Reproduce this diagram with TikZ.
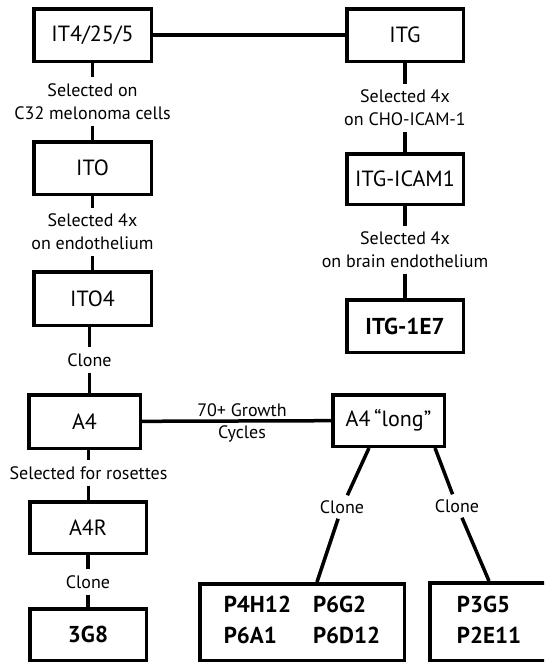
\documentclass[tikz,border=0pt]{standalone}
\usepackage{fontspec}
\setmainfont{PT Sans}
\begin{document}
\begin{tikzpicture}[x=1pt,y=-1pt,
  box/.style={draw, line width=3.5pt, inner sep=0pt, font=\fontsize{22}{26}\selectfont},
  bbox/.style={box, font=\fontsize{23}{31}\selectfont\bfseries},
  lbl/.style={inner xsep=2pt, inner ysep=6pt, align=center, font=\fontsize{18}{23}\selectfont},
  conn/.style={line width=3.5pt}]
\useasboundingbox (0,0) rectangle (544,664);
\clip (0,0) rectangle (544,664);
% boxes
\node[box, minimum width=117.5pt, minimum height=52.5pt] (it4) at (92.5,35) {IT4/25/5};
\node[box, minimum width=116.5pt, minimum height=52.5pt] (itg) at (405,35) {ITG};
\node[box, minimum width=117.5pt, minimum height=52.5pt] (ito) at (92.5,168) {ITO};
\node[box, minimum width=117.5pt, minimum height=53.5pt] (ito4) at (92.5,298.5) {ITO4};
\node[box, minimum width=111.5pt, minimum height=53.5pt] (a4) at (84.5,421.5) {A4};
\node[box, minimum width=116.5pt, minimum height=51.5pt] (a4r) at (88,527.5) {A4R};
\node[bbox, minimum width=116.5pt, minimum height=51.5pt] (g38) at (88,634.5) {3G8};
\node[box, minimum width=116.5pt, minimum height=50.5pt] (itgicam) at (405,179) {ITG-ICAM1};
\node[bbox, minimum width=116.5pt, minimum height=52.5pt] (itg1e7) at (405,326) {ITG-1E7};
\node[box, minimum width=111.5pt, minimum height=51.5pt] (a4long) at (388.5,420.5) {A4\,\textquotedblleft long\textquotedblright};
\node[bbox, minimum width=204.5pt, minimum height=76.5pt] (pleft) at (302,622)
  {\begin{tabular}{@{}l@{\hspace{22pt}}l@{}}P4H12 & P6G2\\ P6A1 & P6D12\end{tabular}};
\node[bbox, minimum width=118.5pt, minimum height=77.5pt] (pright) at (489,621.5)
  {\begin{tabular}{@{}l@{}}P3G5\\ P2E11\end{tabular}};
% labels
\node[lbl] (l1) at (92.5,101.5) {Selected on\\C32 melonoma cells};
\node[lbl] (l2) at (92.5,232) {Selected 4x\\on endothelium};
\node[lbl] (l3) at (89.5,360) {Clone};
\node[lbl] (l4) at (88.5,473) {Selected for rosettes};
\node[lbl] (l5) at (88,582) {Clone};
\node[lbl] (r1) at (405,108) {Selected 4x\\on CHO-ICAM-1};
\node[lbl] (r2) at (405,250) {Selected 4x\\on brain endothelium};
\node[lbl, inner sep=0pt, anchor=base] (g1) at (242,416) {70+ Growth};
\node[lbl, inner sep=0pt, anchor=base] (g2) at (242,438) {Cycles};
\node[lbl, inner sep=5pt] (c1) at (342,507) {Clone};
\node[lbl, inner sep=5pt] (c2) at (457,506) {Clone};
% connectors
\draw[conn] (it4) -- (itg);
\draw[conn] (it4) -- (l1);
\draw[conn] (l1) -- (ito);
\draw[conn] (ito) -- (l2);
\draw[conn] (l2) -- (ito4);
\draw[conn] (l3 |- ito4.south) -- (l3);
\draw[conn] (l3) -- (l3 |- a4.north);
\draw[conn] (l4 |- a4.south) -- (l4);
\draw[conn] (l4) -- (l4 |- a4r.north);
\draw[conn] (a4r) -- (l5);
\draw[conn] (l5) -- (g38);
\draw[conn] (itg) -- (r1);
\draw[conn] (r1) -- (itgicam);
\draw[conn] (itgicam) -- (r2);
\draw[conn] (r2) -- (itg1e7);
\draw[conn] (a4) -- (a4long);
\draw[conn] ([xshift=-19.5pt]a4long.south) -- (c1);
\draw[conn] (c1) -- ([xshift=15pt]pleft.north);
\draw[conn] ([xshift=46.5pt]a4long.south) -- (c2);
\draw[conn] (c2) -- (pright.north);
\end{tikzpicture}
\end{document}
